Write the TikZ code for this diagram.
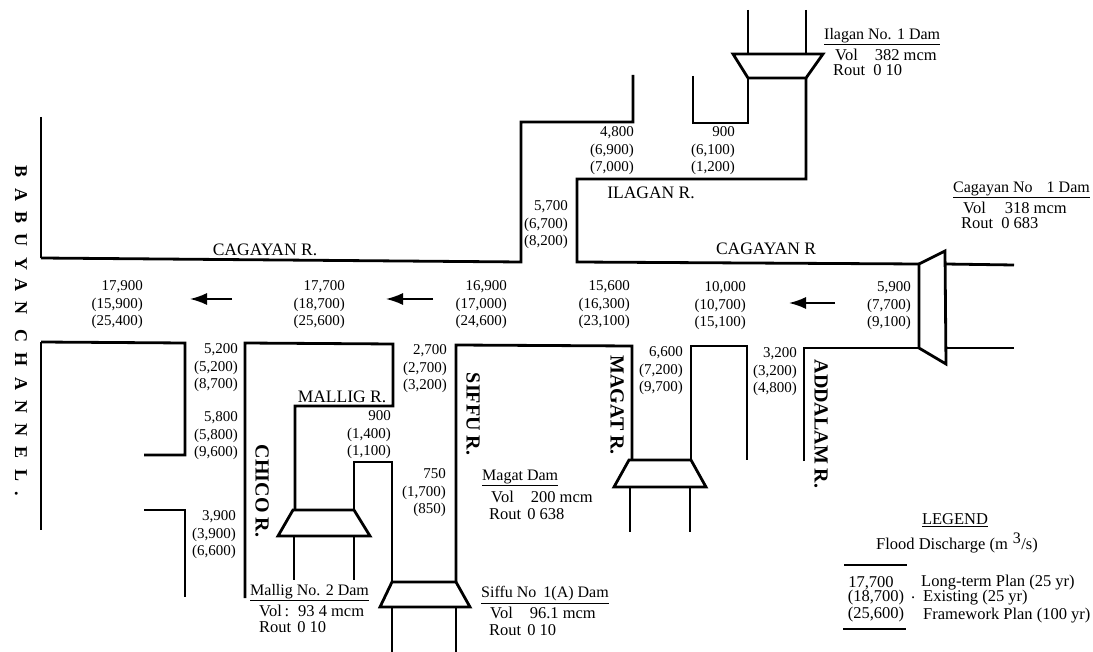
\documentclass[tikz,border=0pt]{standalone}
\usepackage{fontspec}
\usetikzlibrary{arrows.meta}
\setmainfont{Liberation Serif}
\newfontfamily\channelfont[LetterSpace=57]{Liberation Serif}

\begin{document}
\begin{tikzpicture}[x=1pt,y=-1pt,
        bank/.style={line width=2.8pt,line join=miter},
        flow/.style={anchor=east,align=right,inner sep=0pt,font=\fontsize{15}{17.5}\selectfont},
        river/.style={inner sep=0pt,font=\fontsize{17.5}{18}\selectfont},
        riverside/.style={inner sep=0pt,rotate=-90,font=\bfseries\fontsize{20}{20}\selectfont},
        damname/.style={anchor=west,inner sep=0pt,font=\fontsize{16}{17}\selectfont},
        damdata/.style={anchor=west,inner sep=0pt,font=\fontsize{16.5}{17}\selectfont},
        legendtext/.style={anchor=west,inner sep=0pt,font=\fontsize{16.5}{17}\selectfont}]
        \useasboundingbox (0,0) rectangle (1093,652);

        % === CHANNEL ===
        \draw[bank] (41,117) -- (41,258);
        \draw[bank] (41,342) -- (41,530);
        \node[inner sep=0pt,rotate=-90] (channel) at (21,331)
            {\channelfont\bfseries\fontsize{18}{18}\selectfont BABUYAN CHANNEL.};

        % === CAGAYAN RIVER BANKS ===
        \draw[bank] (41,258) -- (521,262) -- (521,122) -- (633,122) -- (633,75);
        \draw[bank] (693,76) -- (693,123) -- (748,123) -- (748,78);
        \draw[bank] (806,78) -- (806,179) -- (577,179) -- (577,262) -- (919,264);
        \draw[bank] (945,264) -- (1014,265);
        \draw[bank] (41,342) -- (185,343) -- (185,455) -- (144,455);
        \draw[bank] (144,510) -- (185,510) -- (185,597);

        % === CHICO AND MALLIG ===
        \draw[bank] (245,598) -- (245,343) -- (393,344) -- (393,406) -- (295,406) -- (295,510);
        \draw[bank] (354,510) -- (354,462) -- (392,462) -- (392,582);
        \draw[bank] (294,536) -- (294,580);
        \draw[bank] (354,536) -- (354,580);

        % === SIFFU, MAGAT, ADDALAM ===
        \draw[bank] (456,582) -- (456,345) -- (632,346) -- (632,460);
        \draw[bank] (392,607) -- (392,652);
        \draw[bank] (456,607) -- (456,652);
        \draw[bank] (630,487) -- (630,532);
        \draw[bank] (690,487) -- (690,532);
        \draw[bank] (691,460) -- (691,346) -- (747,346) -- (747,460);
        \draw[bank] (804,461) -- (804,348) -- (919,348);
        \draw[bank] (946,348) -- (1014,348);

        % === DAMS ===
        \draw[bank] (748,10) -- (748,54);
        \draw[bank] (806,10) -- (806,54);
        \draw[bank] (733,54) -- (823,54) -- (806,78) -- (748,78) -- cycle;
        \draw[bank] (945,251) -- (919,264) -- (919,348) -- (946,364) -- cycle;
        \draw[bank] (293,510) -- (354,510) -- (370,536) -- (278,536) -- cycle;
        \draw[bank] (392,582) -- (456,582) -- (470,607) -- (380,607) -- cycle;
        \draw[bank] (629,460) -- (691,460) -- (706,487) -- (614,487) -- cycle;

        % === ARROWS ===
        \coordinate (arrowAtip) at (190,299);
        \coordinate (arrowAend) at (232,299);
        \coordinate (arrowBtip) at (386,299);
        \coordinate (arrowBend) at (433,299);
        \coordinate (arrowCtip) at (789,303);
        \coordinate (arrowCend) at (835,303);
        \foreach \arr in {A,B,C}
            \draw[line width=1.6pt,-{Latex[length=17pt,width=12pt]}] (arrow\arr end) -- (arrow\arr tip);

        % === RIVER NAMES ===
        \node[river] (cagayanL) at (265,250) {CAGAYAN R.};
        \node[river] (cagayanR) at (766,249) {CAGAYAN R};
        \node[river] (ilagan) at (651,193) {ILAGAN R.};
        \node[river] (mallig) at (342,397) {MALLIG R.};
        \node[riverside] (chico) at (262,491) {CHICO R.};
        \node[riverside] (siffu) at (473,414) {SIFFU R.};
        \node[riverside] (magat) at (617,405) {MAGAT R.};
        \node[riverside] (addalam) at (821,424) {ADDALAM R.};

        % === DISCHARGES ===
        \node[flow] (qA) at (143,305) {17,900\\(15,900)\\(25,400)};
        \node[flow] (qB) at (345,305) {17,700\\(18,700)\\(25,600)};
        \node[flow] (qC) at (507,305) {16,900\\(17,000)\\(24,600)};
        \node[flow] (qD) at (630,305) {15,600\\(16,300)\\(23,100)};
        \node[flow] (qE) at (746,306) {10,000\\(10,700)\\(15,100)};
        \node[flow] (qF) at (911,306) {5,900\\(7,700)\\(9,100)};
        \node[flow] (qG) at (238,368) {5,200\\(5,200)\\(8,700)};
        \node[flow] (qH) at (238,436) {5,800\\(5,800)\\(9,600)};
        \node[flow] (qI) at (236,535) {3,900\\(3,900)\\(6,600)};
        \node[flow] (qJ) at (447,369) {2,700\\(2,700)\\(3,200)};
        \node[flow] (qK) at (391,435) {900\\(1,400)\\(1,100)};
        \node[flow] (qL) at (446,493) {750\\(1,700)\\(850)};
        \node[flow] (qM) at (683,371) {6,600\\(7,200)\\(9,700)};
        \node[flow] (qN) at (797,372) {3,200\\(3,200)\\(4,800)};
        \node[flow] (qO) at (634,151) {4,800\\(6,900)\\(7,000)};
        \node[flow] (qP) at (735,151) {900\\(6,100)\\(1,200)};
        \node[flow] (qQ) at (568,225) {5,700\\(6,700)\\(8,200)};

        % === DAM DATA ===
        \node[damname] (ilaganName) at (824,37) {\underline{Ilagan No. 1 Dam}};
        \node[damdata] (ilaganVol) at (835,55) {Vol\hspace{17pt}382 mcm};
        \node[damdata] (ilaganRout) at (833,70) {Rout\hspace{8pt}0 10};

        \node[damname] (cagayanName) at (953,190) {\underline{Cagayan No\hspace{14pt}1 Dam}};
        \node[damdata] (cagayanVol) at (963,208) {Vol\hspace{19pt}318 mcm};
        \node[damdata] (cagayanRout) at (961,223) {Rout\hspace{8pt}0 683};

        \node[damname] (magatName) at (482,478) {\underline{Magat Dam}};
        \node[damdata] (magatVol) at (491,497) {Vol\hspace{17pt}200 mcm};
        \node[damdata] (magatRout) at (489,514) {Rout\hspace{6pt}0 638};

        \node[damname] (malligName) at (250,593) {\underline{Mallig No. 2 Dam}};
        \node[damdata] (malligVol) at (259,611) {Vol\,:\hspace{9pt}93 4 mcm};
        \node[damdata] (malligRout) at (259,627) {Rout\hspace{6pt}0 10};

        \node[damname] (siffuName) at (481,595) {\underline{Siffu No\hspace{7pt}1(A) Dam}};
        \node[damdata] (siffuVol) at (490,613) {Vol\hspace{17pt}96.1 mcm};
        \node[damdata] (siffuRout) at (489,630) {Rout\hspace{6pt}0 10};

        % === LEGEND ===
        \node[legendtext,anchor=center] (legend) at (955,520) {\underline{LEGEND}};
        \node[legendtext,anchor=center] (flood) at (957,543) {Flood Discharge (m\hspace{5pt}\textsuperscript{\fontsize{16}{16}\selectfont 3}/s)};
        \draw[bank] (844,565) -- (907,565);
        \node[legendtext,anchor=center] (keyA) at (871,583) {17,700};
        \node[legendtext,anchor=center] (keyB) at (876,598) {(18,700)};
        \node[legendtext,anchor=center] (keyC) at (876,615) {(25,600)};
        \draw[bank] (843,629) -- (906,629);
        \node[legendtext] (planA) at (921,583) {Long-term Plan (25 yr)};
        \node[legendtext] (dot) at (911,598) {.};
        \node[legendtext] (planB) at (923,598) {Existing (25 yr)};
        \node[legendtext] (planC) at (923,616) {Framework Plan (100 yr)};
    \end{tikzpicture}
\end{document}
